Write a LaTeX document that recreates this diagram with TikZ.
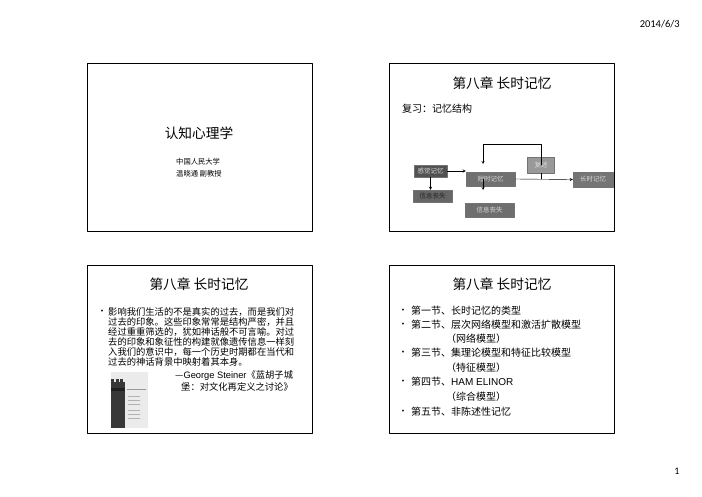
\documentclass[tikz,border=0pt]{standalone}
\usepackage{fontspec}
\setmainfont{Noto Sans CJK SC}
\newfontfamily\latinfont{Liberation Sans}
\newfontfamily\datefont{Carlito}
\newcommand\fsz[1]{\fontsize{#1}{#1}\selectfont}

\begin{document}
\begin{tikzpicture}[x=1pt,y=-1pt,>=stealth,line join=round,line cap=round,
  slide/.style={draw=black,line width=0.8pt},
  ttl/.style={font=\fsz{13.7},inner sep=0pt},
  memory/.style={draw=black!55,inner sep=0pt,font=\fsz{6.5},text=white!85!black},
  bodyA/.style={font=\fsz{9.3},inner sep=0pt,anchor=west},
  bodyB/.style={font=\fsz{10},inner sep=0pt,anchor=west},
  dot/.style={font=\fsz{9},inner sep=0pt}]
\useasboundingbox (0,0) rectangle (702,496);
\node[inner sep=0pt,anchor=east,font=\datefont\fsz{10.5}] (date) at (680,24) {2014/6/3};
\node[inner sep=0pt,font=\datefont\fsz{10}] (page) at (677,471) {1};

% slide frames
\draw[slide] (87,63) rectangle (312,231);
\draw[slide] (389,63) rectangle (614,231);
\draw[slide] (87,265) rectangle (312,433);
\draw[slide] (389,265) rectangle (614,433);

% slide 1
\node[ttl] (course) at (199,133) {认知心理学};
\node[inner sep=0pt,anchor=west,font=\fsz{7.3}] (school) at (176,162) {中国人民大学};
\node[inner sep=0pt,anchor=west,font=\fsz{7.3}] (teacher) at (176,174) {温晓通 副教授};

% slide 2
\node[ttl] (chapA) at (502,83) {第八章 长时记忆};
\node[inner sep=0pt,anchor=west,font=\fsz{10}] (review) at (402,109) {复习：记忆结构};
\node[memory,fill=black!68,minimum width=33pt,minimum height=12pt] (sense) at (430.5,171) {感觉记忆};
\node[memory,fill=black!60,text=black!85,minimum width=39pt,minimum height=12pt] (lossA) at (432.5,196) {信息丧失};
\node[memory,fill=black!56,minimum width=49pt,minimum height=14pt] (short) at (490.5,179) {短时记忆};
\node[memory,fill=black!40,minimum width=27pt,minimum height=16pt] (rehearse) at (541,165) {复述};
\node[memory,fill=black!54,minimum width=40pt,minimum height=15pt] (long) at (593,179.5) {长时记忆};
\node[memory,fill=black!57,minimum width=49pt,minimum height=14pt] (lossB) at (489.5,210) {信息丧失};
\coordinate (loopT) at (483,144);
\coordinate (loopL) at (483,164);
\coordinate (dropE) at (483,190);
\draw[->] (sense.east) -- (sense.east -| short.west);
\draw[->] (sense.south) -- (sense.south |- lossA.north);
\draw[->] (short.east) -- (long.west);
\draw (rehearse.south) -- (rehearse.south |- short.east);
\draw[->] (rehearse.center) |- (loopT) -- (loopL);
\draw[->] (short.center -| loopL) -- (dropE);

% slide 3
\node[ttl] (chapB) at (199,284) {第八章 长时记忆};
\node[dot] (dotA) at (102,312) {•};
\foreach \txt [count=\i] in {影响我们生活的不是真实的过去，而是我们对,
  过去的印象。这些印象常常是结构严密，并且,
  经过重重筛选的，犹如神话般不可言喻。对过,
  去的印象和象征性的构建就像遗传信息一样刻,
  入我们的意识中，每一个历史时期都在当代和,
  过去的神话背景中映射着其本身。}
  \node[bodyA] (line\i) at (108,{302.1+9.9*\i}) {\txt};
\node[bodyA] (quoteA) at (175,376) {—{\latinfont George Steiner}《蓝胡子城};
\node[bodyA] (quoteB) at (181,387) {堡：对文化再定义之讨论》};
% book cover
\fill[black!8] (111,372) rectangle (148,428);
\fill[black!78] (111,382) rectangle (125,428);
\foreach \x in {111,115.5,120} \fill[black!78] (\x,379) rectangle ++(3,3);
\fill[black!88] (111,388) rectangle (125,391);
\draw[black!40,line width=0.4pt] (127,389.5) -- (146,389.5);
\foreach \y in {396,400,404,410,414,418} \draw[black!30,line width=0.4pt] (128,\y) -- (140,\y);

% slide 4
\node[ttl] (chapC) at (502,284) {第八章 长时记忆};
\foreach \y [count=\i] in {311,325,353,382,412} \node[dot] (item\i) at (403,\y) {•};
\foreach \x/\y/\txt [count=\i] in {411/311/第一节、长时记忆的类型,
  411/325/第二节、层次网络模型和激活扩散模型,
  446/339/（网络模型）,
  411/353/第三节、集理论模型和特征比较模型,
  446/368/（特征模型）,
  411/382/第四节、{\latinfont HAM ELINOR},
  446/397/（综合模型）,
  411/412/第五节、非陈述性记忆}
  \node[bodyB] (sect\i) at (\x,\y) {\txt};

\end{tikzpicture}
\end{document}
